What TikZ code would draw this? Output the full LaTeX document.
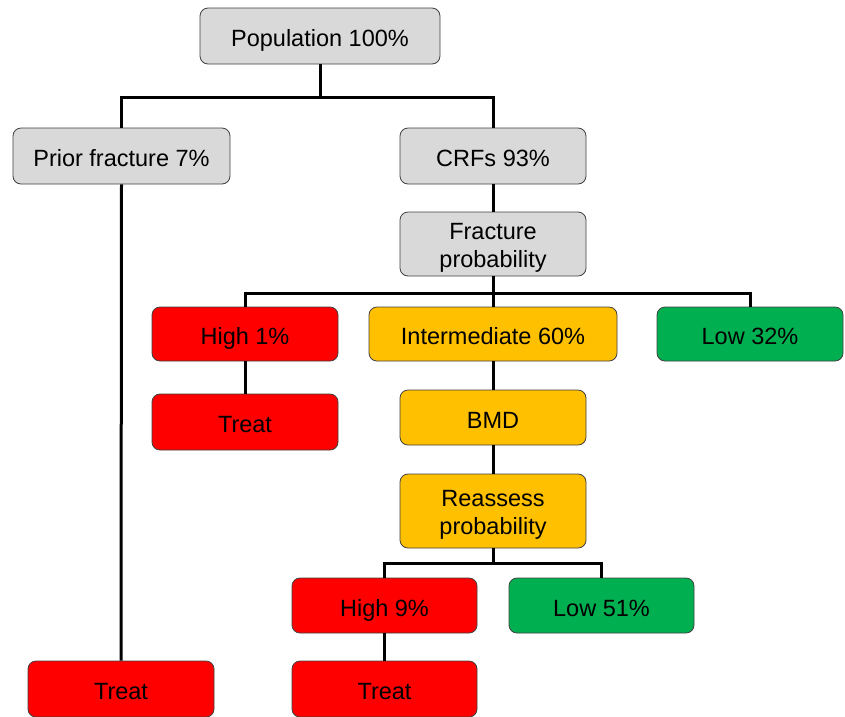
\documentclass[tikz,border=0pt]{standalone}
\usepackage{fontspec}
\setmainfont{Liberation Sans}
\definecolor{boxgray}{HTML}{D9D9D9}
\definecolor{boxred}{HTML}{FF0000}
\definecolor{boxorange}{HTML}{FFC000}
\definecolor{boxgreen}{HTML}{00B050}
\definecolor{edgegray}{HTML}{404040}
\tikzset{
  box/.style={draw=edgegray, line width=0.8pt, rounded corners=8pt, align=center,
    font=\fontsize{23.5}{28}\selectfont, inner sep=0pt, text height=21pt, text depth=0pt},
  two/.style={text height=46pt, text depth=0pt},
  gbox/.style={box, fill=boxgray},
  rbox/.style={box, fill=boxred},
  obox/.style={box, fill=boxorange},
  grbox/.style={box, fill=boxgreen},
  conn/.style={line width=3pt, black},
}
\begin{document}
\begin{tikzpicture}[x=1pt,y=-1pt]
\useasboundingbox (0,0) rectangle (845,716);
\coordinate (j1) at (320,97);
\coordinate (j2) at (493,293);
\coordinate (j3) at (493,563);
\node[gbox, minimum width=240pt, minimum height=56pt] (pop) at (320,36) {Population 100\%};
\node[gbox, minimum width=217pt, minimum height=56pt] (prior) at (121.5,156) {Prior fracture 7\%};
\node[gbox, minimum width=186pt, minimum height=56pt] (crf) at (493,156) {CRFs 93\%};
\node[gbox, two, minimum width=186pt, minimum height=64pt] (fp) at (493,244) {Fracture\\probability};
\node[rbox, minimum width=186pt, minimum height=54pt] (high1) at (245,334) {High 1\%};
\node[obox, minimum width=248pt, minimum height=54pt] (inter) at (493,334) {Intermediate 60\%};
\node[grbox, minimum width=186pt, minimum height=54pt] (low32) at (750,334) {Low 32\%};
\node[rbox, minimum width=186pt, minimum height=56pt] (treat1) at (245,422) {Treat};
\node[obox, minimum width=186pt, minimum height=55pt] (bmd) at (493,417.5) {BMD};
\node[obox, two, minimum width=186pt, minimum height=74pt] (reas) at (493,511) {Reassess\\probability};
\node[rbox, minimum width=185pt, minimum height=55pt] (high9) at (384.5,605.5) {High 9\%};
\node[grbox, minimum width=185pt, minimum height=55pt] (low51) at (601.5,605.5) {Low 51\%};
\node[rbox, minimum width=186pt, minimum height=56pt] (treat0) at (121,689) {Treat};
\node[rbox, minimum width=185pt, minimum height=56pt] (treat2) at (384.5,689) {Treat};
\draw[conn] (pop.south) -- (j1);
\draw[conn] (j1) -| (prior.north);
\draw[conn] (j1) -| (crf.north);
\draw[conn] (crf.south) -- (fp.north);
\draw[conn] (fp.south) -- (j2);
\draw[conn] (j2) -| (high1.north);
\draw[conn] (j2) -- (inter.north);
\draw[conn] (j2) -| (low32.north);
\draw[conn] (prior.south) -- (treat0.north);
\draw[conn] (high1.south) -- (treat1.north);
\draw[conn] (inter.south) -- (bmd.north);
\draw[conn] (bmd.south) -- (reas.north);
\draw[conn] (reas.south) -- (j3);
\draw[conn] (j3) -| (high9.north);
\draw[conn] (j3) -| (low51.north);
\draw[conn] (high9.south) -- (treat2.north);
\end{tikzpicture}
\end{document}
